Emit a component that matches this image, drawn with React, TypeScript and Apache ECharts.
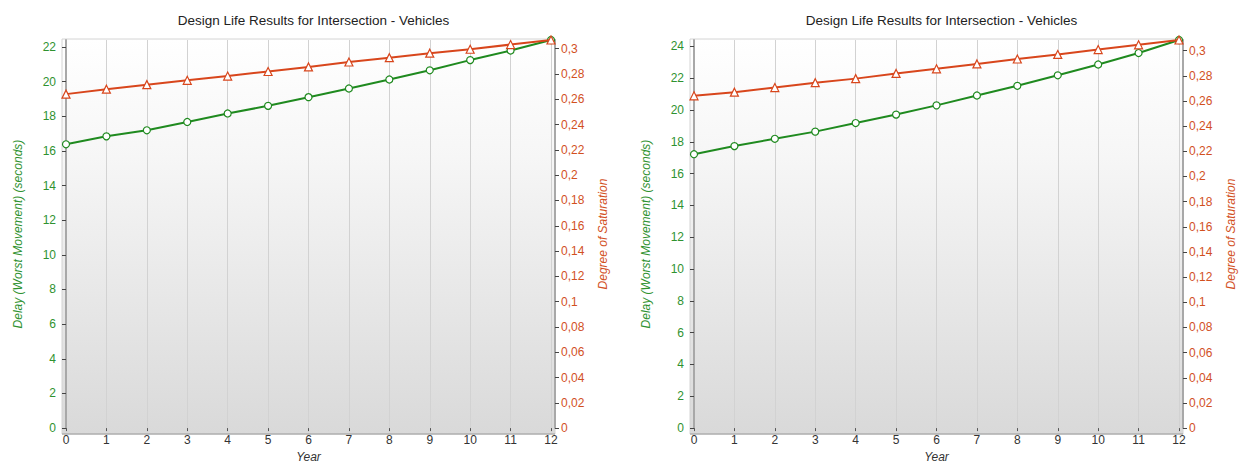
import React, { useEffect, useRef } from "react";
import * as echarts from "echarts";

const years = [0, 1, 2, 3, 4, 5, 6, 7, 8, 9, 10, 11, 12];
const delayLeft = [16.38, 16.84, 17.19, 17.67, 18.16, 18.6, 19.1, 19.6, 20.12, 20.65, 21.24, 21.79, 22.4];
const dosLeft = [0.2641, 0.268, 0.2716, 0.275, 0.2784, 0.282, 0.2856, 0.2895, 0.2929, 0.2965, 0.2996, 0.3033, 0.3069];
const delayRight = [17.22, 17.73, 18.19, 18.64, 19.18, 19.71, 20.29, 20.91, 21.52, 22.18, 22.86, 23.58, 24.4];
const dosRight = [0.2641, 0.267, 0.2707, 0.2746, 0.2778, 0.2819, 0.2856, 0.2895, 0.2934, 0.297, 0.3009, 0.3047, 0.3085];

const titleText = "Design Life Results for Intersection - Vehicles";
const leftName = "Delay (Worst Movement) (seconds)";
const rightName = "Degree of Saturation";
const xName = "Year";

const FONT = "'Liberation Sans', Arial, sans-serif";
const GREEN = "#1f8a1f";
const GREEN_TXT = "#2f922f";
const ORANGE = "#d8461c";
const ORANGE_TXT = "#d2501e";

export default function App() {
  const ref = useRef<HTMLDivElement>(null);
  useEffect(() => {
    const chart = echarts.init(ref.current!, null, { renderer: "svg" });
    const panels = [
      { left: 66, width: 485, delay: delayLeft, dos: dosLeft },
      { left: 694, width: 485, delay: delayRight, dos: dosRight },
    ];
    const top = 40;
    const height = 394;
    const grids: any[] = [];
    const xAxes: any[] = [];
    const yAxes: any[] = [];
    const series: any[] = [];
    const titles: any[] = [];
    const graphics: any[] = [];
    panels.forEach((p, i) => {
      grids.push({ left: p.left, top, width: p.width, height, containLabel: false });
      titles.push({
        text: titleText,
        left: p.left + p.width / 2,
        textAlign: "center",
        top: 8,
        textStyle: { fontFamily: FONT, fontSize: 13.5, fontWeight: "normal", color: "#222" },
      });
      graphics.push({
        type: "rect",
        z: -10,
        silent: true,
        shape: { x: p.left - 4, y: top - 1, width: p.width + 8, height: height + 1 },
        style: {
          fill: new echarts.graphic.LinearGradient(0, 0, 0, 1, [
            { offset: 0, color: "#ffffff" },
            { offset: 0.3, color: "#f6f6f6" },
            { offset: 1, color: "#d9d9d9" },
          ]),
          stroke: "#d4d4d4",
          lineWidth: 1,
        },
      });
      graphics.push({
        type: "line",
        z: 10,
        silent: true,
        shape: { x1: p.left - 4, y1: top + height, x2: p.left + p.width + 4, y2: top + height },
        style: { stroke: "#9a9a9a", lineWidth: 1 },
      });
      xAxes.push({
        type: "value",
        gridIndex: i,
        min: 0,
        max: 12,
        interval: 1,
        name: xName,
        nameLocation: "middle",
        nameGap: 22,
        nameTextStyle: { fontFamily: FONT, fontStyle: "italic", fontSize: 12, color: "#333" },
        axisLine: { show: false },
        axisTick: { show: true, length: 3, lineStyle: { color: "#555" } },
        axisLabel: { fontFamily: FONT, fontSize: 12, color: "#333", margin: 6 },
        splitLine: { show: true, lineStyle: { color: "#d2d2d2", width: 1 } },
      });
      const fmtNum = (v: number) => {
        const r = +v.toFixed(4);
        return String(r).replace(".", ",");
      };
      yAxes.push({
        type: "value",
        gridIndex: i,
        position: "left",
        offset: 4,
        min: 0,
        max: (e: any) => e.max,
        interval: 2,
        name: leftName,
        nameLocation: "middle",
        nameGap: 38,
        nameRotate: 90,
        nameTextStyle: { fontFamily: FONT, fontStyle: "italic", fontSize: 12, color: GREEN_TXT },
        axisLine: { show: true, lineStyle: { color: "#a8a8a8", width: 2 } },
        axisTick: { show: true, length: 4, lineStyle: { color: "#444" } },
        axisLabel: {
          fontFamily: FONT,
          fontSize: 12,
          color: GREEN_TXT,
          margin: 6,
          showMaxLabel: false,
          formatter: (v: number) => (Math.abs(v - Math.round(v)) < 1e-6 && Math.round(v) % 2 === 0 ? String(Math.round(v)) : ""),
        },
        splitLine: { show: false },
      });
      yAxes.push({
        type: "value",
        gridIndex: i,
        position: "right",
        offset: 4,
        min: 0,
        max: (e: any) => e.max,
        interval: 0.02,
        name: rightName,
        nameLocation: "middle",
        nameGap: 42,
        nameRotate: 90,
        nameTextStyle: { fontFamily: FONT, fontStyle: "italic", fontSize: 12, color: ORANGE_TXT },
        axisLine: { show: true, lineStyle: { color: "#a8a8a8", width: 2 } },
        axisTick: { show: true, length: 4, lineStyle: { color: "#444" } },
        axisLabel: {
          fontFamily: FONT,
          fontSize: 12,
          color: ORANGE_TXT,
          margin: 6,
          showMaxLabel: false,
          formatter: fmtNum,
        },
        splitLine: { show: false },
      });
      series.push({
        type: "line",
        name: leftName,
        xAxisIndex: i,
        yAxisIndex: i * 2,
        data: years.map((y, k) => [y, p.delay[k]]),
        symbol: "circle",
        symbolSize: 7,
        showAllSymbol: true,
        lineStyle: { color: GREEN, width: 2 },
        itemStyle: { color: "#ffffff", borderColor: GREEN, borderWidth: 1.2 },
        clip: false,
        z: 3,
      });
      series.push({
        type: "line",
        name: rightName,
        xAxisIndex: i,
        yAxisIndex: i * 2 + 1,
        data: years.map((y, k) => [y, p.dos[k]]),
        symbol: "triangle",
        symbolSize: 8,
        showAllSymbol: true,
        lineStyle: { color: ORANGE, width: 2 },
        itemStyle: { color: "#ffffff", borderColor: ORANGE, borderWidth: 1.2 },
        clip: false,
        z: 4,
      });
    });
    chart.setOption({
      animation: false,
      backgroundColor: "#ffffff",
      title: titles,
      grid: grids,
      xAxis: xAxes,
      yAxis: yAxes,
      series,
      graphic: graphics,
    });
    return () => chart.dispose();
  }, []);
  return (
    <div
      ref={ref}
      style={{ position: "absolute", left: 0, top: 0, width: 1244, height: 468 }}
    />
  );
}
